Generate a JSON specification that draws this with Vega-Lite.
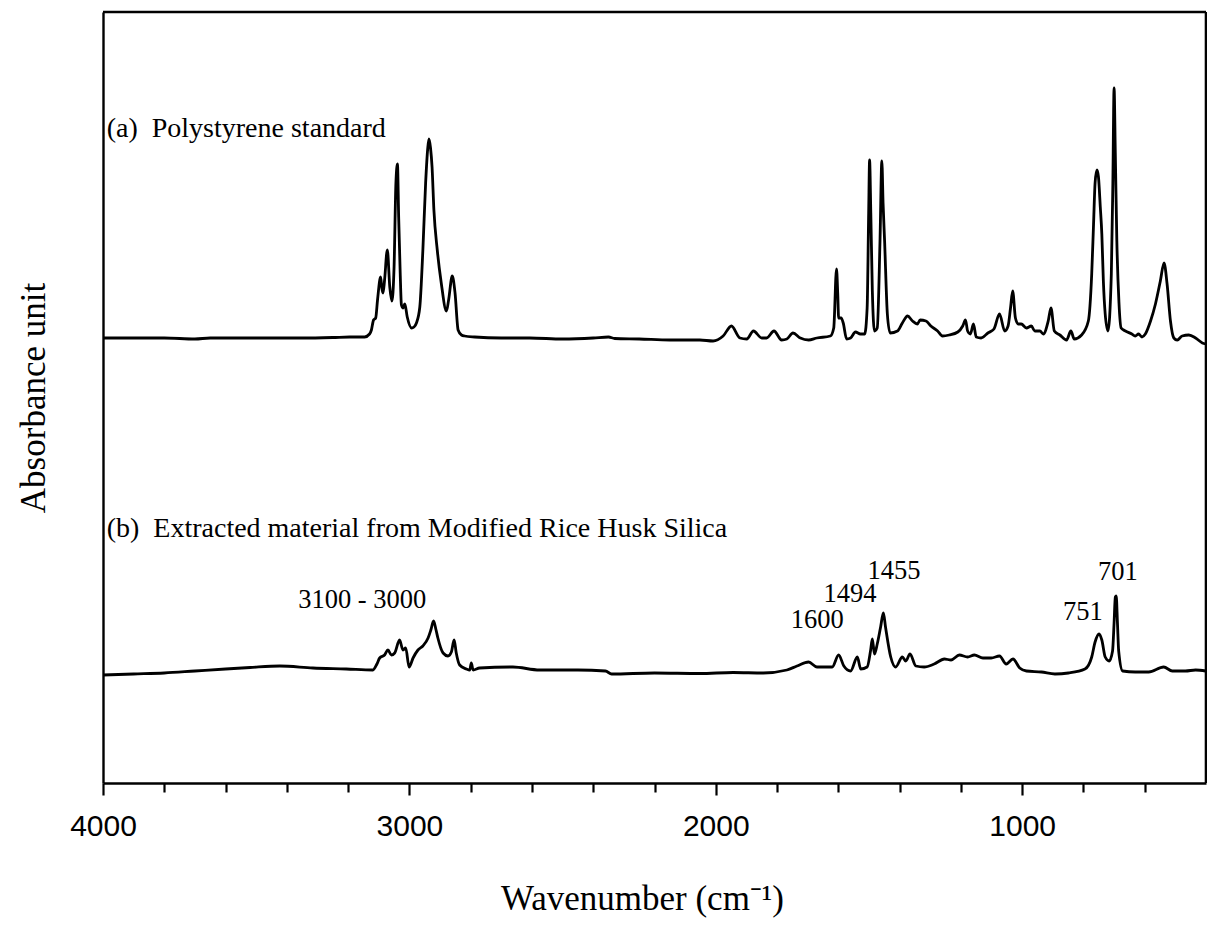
{
  "$schema": "https://vega.github.io/schema/vega-lite/v6.json",
  "autosize": {"type": "none"},
  "padding": {"left": 103, "top": 12, "right": 1, "bottom": 150},
  "width": 1103,
  "height": 771,
  "background": "white",
  "config": {
    "view": {"stroke": null},
    "axis": {"grid": false, "domainColor": "black", "domainWidth": 2.4, "tickColor": "black", "tickWidth": 2.2, "titleColor": "black", "labelColor": "black", "titleFont": "Liberation Serif", "titleFontWeight": "normal", "titleFontSize": 35}
  },
  "datasets": {
    "spectra": [
      {"s": "a", "wn": 4000, "A": 44.5}, {"s": "a", "wn": 3900, "A": 44.5}, {"s": "a", "wn": 3800, "A": 44.5}, {"s": "a", "wn": 3700, "A": 44.4},
      {"s": "a", "wn": 3650, "A": 44.5}, {"s": "a", "wn": 3550, "A": 44.5}, {"s": "a", "wn": 3450, "A": 44.5}, {"s": "a", "wn": 3350, "A": 44.5},
      {"s": "a", "wn": 3250, "A": 44.55}, {"s": "a", "wn": 3195, "A": 44.6}, {"s": "a", "wn": 3146, "A": 44.6}, {"s": "a", "wn": 3130, "A": 44.9},
      {"s": "a", "wn": 3124, "A": 45.3}, {"s": "a", "wn": 3117, "A": 46.3}, {"s": "a", "wn": 3110, "A": 46.5}, {"s": "a", "wn": 3104, "A": 48.3},
      {"s": "a", "wn": 3094, "A": 50.6}, {"s": "a", "wn": 3090, "A": 49.5}, {"s": "a", "wn": 3086, "A": 49.0}, {"s": "a", "wn": 3081, "A": 50.3},
      {"s": "a", "wn": 3072, "A": 53.3}, {"s": "a", "wn": 3064, "A": 49.6}, {"s": "a", "wn": 3057, "A": 48.2}, {"s": "a", "wn": 3050, "A": 51.6},
      {"s": "a", "wn": 3044, "A": 60.0}, {"s": "a", "wn": 3039, "A": 61.9}, {"s": "a", "wn": 3035, "A": 56.6}, {"s": "a", "wn": 3030, "A": 51.0},
      {"s": "a", "wn": 3026, "A": 47.8}, {"s": "a", "wn": 3021, "A": 47.5}, {"s": "a", "wn": 3015, "A": 47.9}, {"s": "a", "wn": 3007, "A": 46.6},
      {"s": "a", "wn": 2993, "A": 45.5}, {"s": "a", "wn": 2985, "A": 45.6}, {"s": "a", "wn": 2977, "A": 46.0}, {"s": "a", "wn": 2966, "A": 47.6},
      {"s": "a", "wn": 2956, "A": 53.3}, {"s": "a", "wn": 2947, "A": 60.0}, {"s": "a", "wn": 2940, "A": 63.5}, {"s": "a", "wn": 2936, "A": 64.4},
      {"s": "a", "wn": 2931, "A": 63.5}, {"s": "a", "wn": 2926, "A": 61.6}, {"s": "a", "wn": 2920, "A": 57.3}, {"s": "a", "wn": 2909, "A": 53.3},
      {"s": "a", "wn": 2896, "A": 50.0}, {"s": "a", "wn": 2879, "A": 47.2}, {"s": "a", "wn": 2872, "A": 48.3}, {"s": "a", "wn": 2860, "A": 50.7},
      {"s": "a", "wn": 2851, "A": 49.0}, {"s": "a", "wn": 2841, "A": 45.3}, {"s": "a", "wn": 2830, "A": 44.8}, {"s": "a", "wn": 2820, "A": 44.7},
      {"s": "a", "wn": 2787, "A": 44.6}, {"s": "a", "wn": 2700, "A": 44.5}, {"s": "a", "wn": 2607, "A": 44.5}, {"s": "a", "wn": 2500, "A": 44.4},
      {"s": "a", "wn": 2400, "A": 44.5}, {"s": "a", "wn": 2350, "A": 44.6}, {"s": "a", "wn": 2330, "A": 44.45}, {"s": "a", "wn": 2250, "A": 44.4},
      {"s": "a", "wn": 2150, "A": 44.3}, {"s": "a", "wn": 2052, "A": 44.3}, {"s": "a", "wn": 2009, "A": 44.2}, {"s": "a", "wn": 1976, "A": 44.7},
      {"s": "a", "wn": 1949, "A": 45.7}, {"s": "a", "wn": 1921, "A": 44.5}, {"s": "a", "wn": 1899, "A": 44.4}, {"s": "a", "wn": 1877, "A": 45.2},
      {"s": "a", "wn": 1850, "A": 44.5}, {"s": "a", "wn": 1834, "A": 44.5}, {"s": "a", "wn": 1810, "A": 45.2}, {"s": "a", "wn": 1785, "A": 44.3},
      {"s": "a", "wn": 1768, "A": 44.4}, {"s": "a", "wn": 1748, "A": 45.0}, {"s": "a", "wn": 1724, "A": 44.5}, {"s": "a", "wn": 1697, "A": 44.3},
      {"s": "a", "wn": 1670, "A": 44.5}, {"s": "a", "wn": 1626, "A": 44.7}, {"s": "a", "wn": 1615, "A": 45.5}, {"s": "a", "wn": 1606, "A": 51.4},
      {"s": "a", "wn": 1602, "A": 49.0}, {"s": "a", "wn": 1599, "A": 46.5}, {"s": "a", "wn": 1591, "A": 46.5}, {"s": "a", "wn": 1584, "A": 46.0},
      {"s": "a", "wn": 1573, "A": 44.4}, {"s": "a", "wn": 1560, "A": 44.5}, {"s": "a", "wn": 1544, "A": 45.1}, {"s": "a", "wn": 1528, "A": 44.9},
      {"s": "a", "wn": 1514, "A": 44.9}, {"s": "a", "wn": 1506, "A": 47.5}, {"s": "a", "wn": 1501, "A": 57.0}, {"s": "a", "wn": 1498, "A": 62.3},
      {"s": "a", "wn": 1494, "A": 57.0}, {"s": "a", "wn": 1489, "A": 49.2}, {"s": "a", "wn": 1482, "A": 45.2}, {"s": "a", "wn": 1473, "A": 45.5},
      {"s": "a", "wn": 1464, "A": 54.2}, {"s": "a", "wn": 1458, "A": 62.2}, {"s": "a", "wn": 1454, "A": 58.0}, {"s": "a", "wn": 1449, "A": 54.2},
      {"s": "a", "wn": 1440, "A": 46.9}, {"s": "a", "wn": 1431, "A": 45.0}, {"s": "a", "wn": 1407, "A": 45.2}, {"s": "a", "wn": 1391, "A": 46.0},
      {"s": "a", "wn": 1374, "A": 46.7}, {"s": "a", "wn": 1358, "A": 46.2}, {"s": "a", "wn": 1342, "A": 45.9}, {"s": "a", "wn": 1333, "A": 46.3},
      {"s": "a", "wn": 1314, "A": 46.2}, {"s": "a", "wn": 1298, "A": 45.7}, {"s": "a", "wn": 1276, "A": 45.2}, {"s": "a", "wn": 1260, "A": 44.7},
      {"s": "a", "wn": 1238, "A": 44.8}, {"s": "a", "wn": 1210, "A": 45.1}, {"s": "a", "wn": 1194, "A": 45.7}, {"s": "a", "wn": 1185, "A": 46.3},
      {"s": "a", "wn": 1178, "A": 45.2}, {"s": "a", "wn": 1169, "A": 44.9}, {"s": "a", "wn": 1159, "A": 45.9}, {"s": "a", "wn": 1150, "A": 44.6},
      {"s": "a", "wn": 1134, "A": 44.5}, {"s": "a", "wn": 1112, "A": 45.0}, {"s": "a", "wn": 1092, "A": 45.4}, {"s": "a", "wn": 1074, "A": 46.9},
      {"s": "a", "wn": 1057, "A": 45.2}, {"s": "a", "wn": 1046, "A": 45.7}, {"s": "a", "wn": 1038, "A": 47.5}, {"s": "a", "wn": 1031, "A": 49.2},
      {"s": "a", "wn": 1022, "A": 46.5}, {"s": "a", "wn": 1013, "A": 45.9}, {"s": "a", "wn": 1003, "A": 45.9}, {"s": "a", "wn": 986, "A": 45.5},
      {"s": "a", "wn": 970, "A": 45.7}, {"s": "a", "wn": 959, "A": 45.2}, {"s": "a", "wn": 942, "A": 45.2}, {"s": "a", "wn": 931, "A": 44.9},
      {"s": "a", "wn": 915, "A": 46.2}, {"s": "a", "wn": 906, "A": 47.5}, {"s": "a", "wn": 895, "A": 45.2}, {"s": "a", "wn": 877, "A": 44.8},
      {"s": "a", "wn": 855, "A": 44.3}, {"s": "a", "wn": 841, "A": 45.2}, {"s": "a", "wn": 830, "A": 44.4}, {"s": "a", "wn": 806, "A": 44.8},
      {"s": "a", "wn": 784, "A": 46.2}, {"s": "a", "wn": 773, "A": 50.9}, {"s": "a", "wn": 767, "A": 55.9}, {"s": "a", "wn": 762, "A": 60.0},
      {"s": "a", "wn": 756, "A": 61.3}, {"s": "a", "wn": 751, "A": 60.6}, {"s": "a", "wn": 745, "A": 57.6}, {"s": "a", "wn": 740, "A": 54.9},
      {"s": "a", "wn": 735, "A": 50.2}, {"s": "a", "wn": 729, "A": 46.9}, {"s": "a", "wn": 720, "A": 45.2}, {"s": "a", "wn": 709, "A": 50.9},
      {"s": "a", "wn": 704, "A": 60.0}, {"s": "a", "wn": 700, "A": 69.5}, {"s": "a", "wn": 696, "A": 63.0}, {"s": "a", "wn": 691, "A": 54.2},
      {"s": "a", "wn": 684, "A": 48.0}, {"s": "a", "wn": 677, "A": 45.5}, {"s": "a", "wn": 663, "A": 45.2}, {"s": "a", "wn": 642, "A": 44.9},
      {"s": "a", "wn": 631, "A": 44.7}, {"s": "a", "wn": 620, "A": 44.9}, {"s": "a", "wn": 609, "A": 44.6}, {"s": "a", "wn": 598, "A": 44.9},
      {"s": "a", "wn": 581, "A": 46.2}, {"s": "a", "wn": 565, "A": 47.9}, {"s": "a", "wn": 549, "A": 50.2}, {"s": "a", "wn": 537, "A": 52.0},
      {"s": "a", "wn": 527, "A": 49.9}, {"s": "a", "wn": 516, "A": 46.2}, {"s": "a", "wn": 505, "A": 44.5}, {"s": "a", "wn": 494, "A": 44.3},
      {"s": "a", "wn": 478, "A": 44.7}, {"s": "a", "wn": 456, "A": 44.8}, {"s": "a", "wn": 434, "A": 44.5}, {"s": "a", "wn": 412, "A": 44.0},
      {"s": "a", "wn": 401, "A": 43.9},

      {"s": "b", "wn": 4000, "A": 10.8}, {"s": "b", "wn": 3900, "A": 10.9}, {"s": "b", "wn": 3800, "A": 11.0}, {"s": "b", "wn": 3700, "A": 11.2},
      {"s": "b", "wn": 3600, "A": 11.4}, {"s": "b", "wn": 3520, "A": 11.55}, {"s": "b", "wn": 3423, "A": 11.7}, {"s": "b", "wn": 3315, "A": 11.5},
      {"s": "b", "wn": 3206, "A": 11.4}, {"s": "b", "wn": 3119, "A": 11.3}, {"s": "b", "wn": 3106, "A": 11.9}, {"s": "b", "wn": 3097, "A": 12.5},
      {"s": "b", "wn": 3081, "A": 12.8}, {"s": "b", "wn": 3070, "A": 13.3}, {"s": "b", "wn": 3059, "A": 12.8}, {"s": "b", "wn": 3048, "A": 13.0},
      {"s": "b", "wn": 3032, "A": 14.3}, {"s": "b", "wn": 3021, "A": 13.3}, {"s": "b", "wn": 3012, "A": 13.5}, {"s": "b", "wn": 3001, "A": 11.6},
      {"s": "b", "wn": 2988, "A": 12.5}, {"s": "b", "wn": 2972, "A": 13.3}, {"s": "b", "wn": 2956, "A": 13.7}, {"s": "b", "wn": 2939, "A": 14.5},
      {"s": "b", "wn": 2930, "A": 15.3}, {"s": "b", "wn": 2921, "A": 16.2}, {"s": "b", "wn": 2913, "A": 15.3}, {"s": "b", "wn": 2907, "A": 14.5},
      {"s": "b", "wn": 2890, "A": 13.0}, {"s": "b", "wn": 2874, "A": 12.7}, {"s": "b", "wn": 2863, "A": 13.1}, {"s": "b", "wn": 2854, "A": 14.3},
      {"s": "b", "wn": 2847, "A": 13.0}, {"s": "b", "wn": 2836, "A": 11.8}, {"s": "b", "wn": 2814, "A": 11.4}, {"s": "b", "wn": 2803, "A": 11.3},
      {"s": "b", "wn": 2798, "A": 12.0}, {"s": "b", "wn": 2792, "A": 11.3}, {"s": "b", "wn": 2771, "A": 11.5}, {"s": "b", "wn": 2662, "A": 11.6},
      {"s": "b", "wn": 2575, "A": 11.3}, {"s": "b", "wn": 2450, "A": 11.3}, {"s": "b", "wn": 2360, "A": 11.2}, {"s": "b", "wn": 2340, "A": 10.9},
      {"s": "b", "wn": 2200, "A": 11.0}, {"s": "b", "wn": 2052, "A": 10.95}, {"s": "b", "wn": 1943, "A": 11.05}, {"s": "b", "wn": 1845, "A": 11.0},
      {"s": "b", "wn": 1768, "A": 11.3}, {"s": "b", "wn": 1735, "A": 11.7}, {"s": "b", "wn": 1697, "A": 12.1}, {"s": "b", "wn": 1670, "A": 11.6},
      {"s": "b", "wn": 1620, "A": 11.6}, {"s": "b", "wn": 1599, "A": 12.8}, {"s": "b", "wn": 1582, "A": 11.7}, {"s": "b", "wn": 1560, "A": 11.2},
      {"s": "b", "wn": 1538, "A": 12.6}, {"s": "b", "wn": 1527, "A": 11.4}, {"s": "b", "wn": 1506, "A": 11.6}, {"s": "b", "wn": 1495, "A": 13.2},
      {"s": "b", "wn": 1489, "A": 14.4}, {"s": "b", "wn": 1482, "A": 12.9}, {"s": "b", "wn": 1473, "A": 13.9}, {"s": "b", "wn": 1462, "A": 15.6},
      {"s": "b", "wn": 1453, "A": 17.0}, {"s": "b", "wn": 1446, "A": 15.6}, {"s": "b", "wn": 1429, "A": 12.6}, {"s": "b", "wn": 1413, "A": 11.6},
      {"s": "b", "wn": 1391, "A": 12.6}, {"s": "b", "wn": 1380, "A": 12.2}, {"s": "b", "wn": 1366, "A": 12.9}, {"s": "b", "wn": 1347, "A": 11.7},
      {"s": "b", "wn": 1320, "A": 11.6}, {"s": "b", "wn": 1287, "A": 11.9}, {"s": "b", "wn": 1254, "A": 12.4}, {"s": "b", "wn": 1232, "A": 12.3},
      {"s": "b", "wn": 1205, "A": 12.8}, {"s": "b", "wn": 1178, "A": 12.6}, {"s": "b", "wn": 1156, "A": 12.8}, {"s": "b", "wn": 1128, "A": 12.5},
      {"s": "b", "wn": 1101, "A": 12.5}, {"s": "b", "wn": 1074, "A": 12.7}, {"s": "b", "wn": 1052, "A": 11.9}, {"s": "b", "wn": 1030, "A": 12.4},
      {"s": "b", "wn": 1008, "A": 11.5}, {"s": "b", "wn": 986, "A": 11.2}, {"s": "b", "wn": 937, "A": 11.1}, {"s": "b", "wn": 893, "A": 10.9},
      {"s": "b", "wn": 849, "A": 11.0}, {"s": "b", "wn": 795, "A": 11.4}, {"s": "b", "wn": 773, "A": 12.6}, {"s": "b", "wn": 762, "A": 14.1},
      {"s": "b", "wn": 749, "A": 14.9}, {"s": "b", "wn": 740, "A": 14.3}, {"s": "b", "wn": 729, "A": 12.6}, {"s": "b", "wn": 716, "A": 12.2},
      {"s": "b", "wn": 705, "A": 13.2}, {"s": "b", "wn": 700, "A": 16.0}, {"s": "b", "wn": 696, "A": 18.6}, {"s": "b", "wn": 693, "A": 18.7},
      {"s": "b", "wn": 689, "A": 16.0}, {"s": "b", "wn": 685, "A": 13.2}, {"s": "b", "wn": 672, "A": 11.2}, {"s": "b", "wn": 631, "A": 11.1},
      {"s": "b", "wn": 587, "A": 11.1}, {"s": "b", "wn": 538, "A": 11.6}, {"s": "b", "wn": 510, "A": 11.2}, {"s": "b", "wn": 467, "A": 11.2},
      {"s": "b", "wn": 434, "A": 11.3}, {"s": "b", "wn": 401, "A": 11.2}
    ],
    "seriesNames": [
      {"wn": 3988, "A": 64.6, "text": "(a)\u00a0\u00a0Polystyrene standard"},
      {"wn": 3988, "A": 24.6, "text": "(b)\u00a0\u00a0Extracted material from Modified Rice Husk Silica"}
    ],
    "peakLabels": [
      {"wn": 3154, "A": 17.5, "text": "3100 - 3000"},
      {"wn": 1669, "A": 15.5, "text": "1600"},
      {"wn": 1562, "A": 18.1, "text": "1494"},
      {"wn": 1418, "A": 20.45, "text": "1455"},
      {"wn": 802, "A": 16.3, "text": "751"},
      {"wn": 688, "A": 20.3, "text": "701"}
    ],
    "frameTop": [{"A": 77.1}],
    "frameRight": [{"wn": 400}]
  },
  "resolve": {"axis": {"x": "independent"}},
  "layer": [
    {
      "data": {"name": "spectra"},
      "mark": {"type": "line", "color": "black", "strokeWidth": 2.8, "interpolate": "monotone", "strokeJoin": "round"},
      "encoding": {
        "x": {
          "field": "wn", "type": "quantitative",
          "scale": {"domain": [400, 4000], "reverse": true, "nice": false, "zero": false},
          "axis": {
            "orient": "bottom",
            "title": "Wavenumber (cm⁻¹)",
            "titlePadding": 40,
            "titleX": 539,
            "values": [4000, 3000, 2000, 1000],
            "format": "d",
            "labelFont": "Liberation Sans",
            "labelFontSize": 30,
            "labelPadding": 16,
            "labelFlush": false,
            "labelOverlap": false,
            "tickSize": 12
          }
        },
        "y": {
          "field": "A", "type": "quantitative",
          "scale": {"domain": [0, 77.1], "nice": false, "zero": false},
          "axis": {"title": "Absorbance unit", "labels": false, "ticks": false, "titlePadding": 52}
        },
        "detail": {"field": "s"}
      }
    },
    {
      "data": {"name": "frameTop"},
      "mark": {"type": "rule", "color": "black", "strokeWidth": 2.6},
      "encoding": {"y": {"field": "A", "type": "quantitative"}}
    },
    {
      "data": {"name": "frameRight"},
      "mark": {"type": "rule", "color": "black", "strokeWidth": 2.6},
      "encoding": {
        "x": {
          "field": "wn", "type": "quantitative",
          "axis": {
            "orient": "bottom",
            "title": null,
            "labels": false,
            "domain": false,
            "tickSize": 9,
            "values": [3800, 3600, 3400, 3200, 2800, 2600, 2400, 2200, 1800, 1600, 1400, 1200, 800, 600]
          }
        }
      }
    },
    {
      "data": {"name": "seriesNames"},
      "mark": {"type": "text", "align": "left", "baseline": "alphabetic", "font": "Liberation Serif", "fontSize": 28, "color": "black"},
      "encoding": {
        "x": {"field": "wn", "type": "quantitative", "axis": null},
        "y": {"field": "A", "type": "quantitative"},
        "text": {"field": "text"}
      }
    },
    {
      "data": {"name": "peakLabels"},
      "mark": {"type": "text", "align": "center", "baseline": "alphabetic", "font": "Liberation Serif", "fontSize": 26.5, "color": "black"},
      "encoding": {
        "x": {"field": "wn", "type": "quantitative", "axis": null},
        "y": {"field": "A", "type": "quantitative"},
        "text": {"field": "text"}
      }
    }
  ]
}
